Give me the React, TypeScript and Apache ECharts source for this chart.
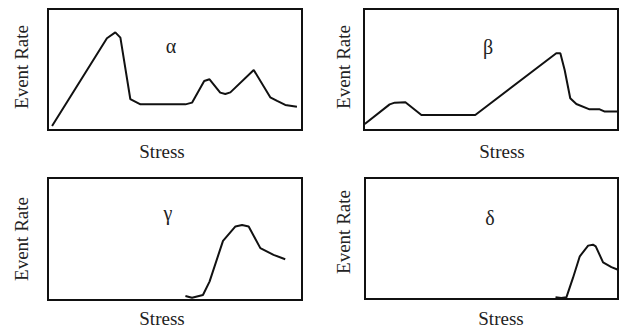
import React, { useEffect, useRef } from "react";
import * as echarts from "echarts";

// Stress (0-100) vs Event Rate (0-100)
const alphaStress = [1.6, 23.2, 26.5, 28.5, 32.4, 36.4, 54.1, 56.7, 61.5, 63.6, 67.8, 69.8, 71.8, 81.0, 87.5, 90.2, 93.4, 98.0];
const alphaRate = [3.3, 75.8, 80.7, 76.3, 25.6, 21.2, 21.2, 22.6, 40.5, 41.9, 30.9, 29.8, 31.1, 49.6, 27.0, 24.0, 20.7, 19.3];

const betaStress = [0.3, 10.1, 12.1, 16.3, 22.6, 43.8, 75.7, 77.3, 79.0, 81.2, 83.6, 88.8, 92.8, 94.8, 100];
const betaRate = [5.0, 21.2, 22.6, 22.9, 12.4, 12.4, 63.4, 63.4, 49.6, 26.2, 21.5, 17.1, 17.1, 15.2, 15.2];

const gammaStress = [54.1, 56.7, 61.0, 63.6, 68.9, 73.8, 76.4, 79.0, 83.6, 88.8, 93.4];
const gammaRate = [3.3, 1.9, 4.1, 15.1, 48.5, 60.3, 61.4, 60.3, 42.5, 37.0, 33.4];

const deltaStress = [75.3, 77.6, 79.6, 82.2, 84.9, 88.2, 90.1, 91.2, 94.1, 97.4, 100];
const deltaRate = [1.4, 0.8, 1.4, 17.4, 35.3, 44.1, 44.9, 43.5, 30.3, 26.4, 24.2];

const panelNames = ["α", "β", "γ", "δ"];
const xAxisTitle = "Stress";
const yAxisTitle = "Event Rate";

const FONT = "'Liberation Serif', 'DejaVu Serif', serif";

export default function App() {
  const ref = useRef<HTMLDivElement>(null);
  useEffect(() => {
    if (!ref.current) return;
    const chart = echarts.init(ref.current, null, { renderer: "svg" });
    const grids = [
      { left: 48, top: 9, width: 254, height: 121 },
      { left: 364, top: 9, width: 254, height: 121 },
      { left: 48, top: 178, width: 254, height: 122 },
      { left: 365, top: 178, width: 253, height: 121 },
    ];
    const seriesData = [
      [alphaStress, alphaRate],
      [betaStress, betaRate],
      [gammaStress, gammaRate],
      [deltaStress, deltaRate],
    ];
    const stressPos = [
      [162, 151],
      [502, 151],
      [162, 318],
      [501, 318],
    ];
    const ratePos = [
      [21, 67],
      [343, 67],
      [21, 239],
      [343, 232],
    ];
    const namePos = [
      [171, 46],
      [488, 47],
      [168, 213],
      [490, 218],
    ];
    const graphic: any[] = [];
    for (let i = 0; i < 4; i++) {
      graphic.push({
        type: "text",
        x: stressPos[i][0],
        y: stressPos[i][1],
        style: { text: xAxisTitle, font: `19px ${FONT}`, fill: "#222", align: "center", verticalAlign: "middle" },
      });
      graphic.push({
        type: "text",
        x: ratePos[i][0],
        y: ratePos[i][1],
        rotation: Math.PI / 2,
        style: { text: yAxisTitle, font: `19px ${FONT}`, fill: "#222", align: "center", verticalAlign: "middle" },
      });
      graphic.push({
        type: "text",
        x: namePos[i][0],
        y: namePos[i][1],
        style: { text: panelNames[i], font: `20px ${FONT}`, fill: "#222", align: "center", verticalAlign: "middle" },
      });
    }
    chart.setOption({
      animation: false,
      backgroundColor: "#ffffff",
      grid: grids.map((g) => ({ ...g, show: true, borderColor: "#111", borderWidth: 2, backgroundColor: "transparent" })),
      xAxis: grids.map((_, i) => ({
        type: "value",
        gridIndex: i,
        min: 0,
        max: 100,
        show: false,
      })),
      yAxis: grids.map((_, i) => ({
        type: "value",
        gridIndex: i,
        min: 0,
        max: 100,
        show: false,
      })),
      series: seriesData.map(([xs, ys], i) => ({
        type: "line",
        xAxisIndex: i,
        yAxisIndex: i,
        data: xs.map((x, j) => [x, ys[j]]),
        showSymbol: false,
        symbol: "none",
        lineStyle: { color: "#111", width: 2 },
        clip: false,
      })),
      graphic,
    });
    return () => chart.dispose();
  }, []);
  return <div ref={ref} style={{ position: "fixed", left: 0, top: 0, width: 620, height: 331 }} />;
}
